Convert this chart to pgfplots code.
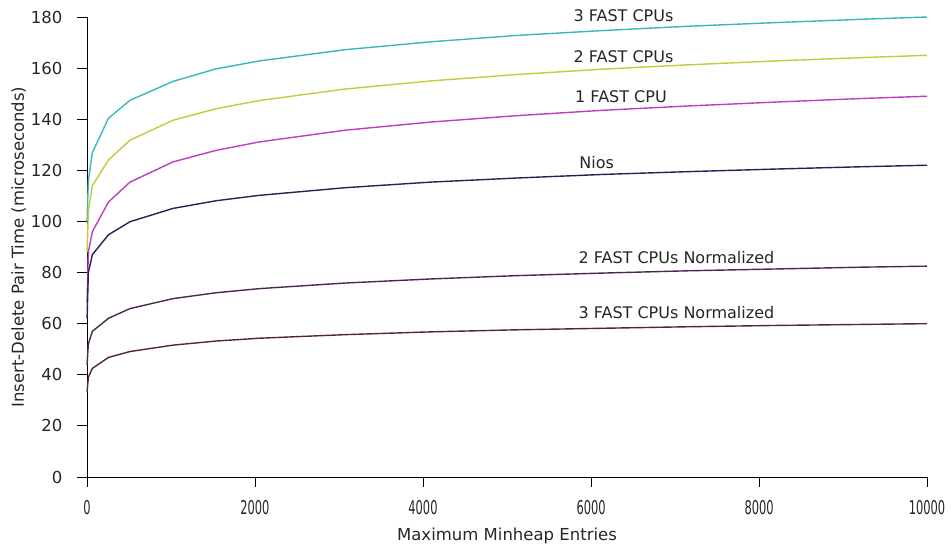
\documentclass[border=0pt]{standalone}
\usepackage{fontspec}
\setmainfont{DejaVu Sans}
\usepackage{graphicx}
\usepackage{pgfplots}
\pgfplotsset{compat=1.18}
\definecolor{c3f}{RGB}{58,184,184}
\definecolor{c2f}{RGB}{200,200,60}
\definecolor{c1f}{RGB}{190,60,190}
\definecolor{cnios}{RGB}{35,35,85}
\definecolor{c2n}{RGB}{75,40,80}
\definecolor{c3n}{RGB}{85,40,40}
\begin{document}
\begin{tikzpicture}
\begin{axis}[
  scale only axis, width=840pt, height=460pt,
  at={(0,0)}, anchor=south west,
  xmin=0, xmax=10000, ymin=0, ymax=180,
  axis x line*=bottom, axis y line*=left,
  axis line style={line width=0.9pt, black},
  tick style={line width=0.9pt, black},
  tick align=outside, major tick length=10pt,
  xtick={0,2000,...,10000}, ytick={0,20,...,180},
  scaled x ticks=false,
  /pgf/number format/1000 sep={},
  /pgf/number format/assume math mode=true,
  xticklabel={\scalebox{0.6}[1]{\fontsize{19}{21}\selectfont\pgfmathprintnumber{\tick}}},
  ticklabel style={font=\fontsize{16.5}{19}\selectfont, text=black!85},
  x tick label style={yshift=-10pt},
  y tick label style={xshift=-11pt},
  xlabel={Maximum Minheap Entries},
  ylabel={Insert-Delete Pair Time (microseconds)},
  label style={font=\fontsize{16.5}{19}\selectfont, text=black!85},
  xlabel style={yshift=-6pt},
  ylabel style={yshift=-2pt},
  clip=false,
  every axis plot/.append style={line width=1.4pt},
]
\addplot[c3f] coordinates {(1,100) (16,116) (64,127) (256,140.4) (512,147.4) (1024,154.8) (1536,159.7) (2048,162.8) (3072,167.2) (4096,170.3) (5120,172.8) (6144,174.7) (7168,176.4) (8192,177.8) (9216,179.1) (10000,180)};
\addplot[c2f] coordinates {(1,88) (16,104) (64,114) (256,124.1) (512,131.8) (1024,139.6) (1536,144.1) (2048,147.3) (3072,151.8) (4096,155.0) (5120,157.5) (6144,159.6) (7168,161.3) (8192,162.8) (9216,164.1) (10000,165)};
\addplot[c1f] coordinates {(1,68) (16,88) (64,96) (256,107.6) (512,115.4) (1024,123.3) (1536,127.8) (2048,131.1) (3072,135.7) (4096,138.9) (5120,141.4) (6144,143.5) (7168,145.2) (8192,146.7) (9216,148.1) (10000,149)};
\addplot[cnios] coordinates {(1,62) (16,80) (64,87) (256,94.8) (512,99.9) (1024,105.1) (1536,108.1) (2048,110.2) (3072,113.2) (4096,115.4) (5120,117.0) (6144,118.4) (7168,119.5) (8192,120.5) (9216,121.4) (10000,122)};
\addplot[c2n] coordinates {(1,44) (16,52) (64,57) (256,62.1) (512,65.9) (1024,69.8) (1536,72.1) (2048,73.7) (3072,75.9) (4096,77.5) (5120,78.8) (6144,79.8) (7168,80.7) (8192,81.4) (9216,82.1) (10000,82.5)};
\addplot[c3n] coordinates {(1,33.3) (16,39) (64,42.5) (256,46.8) (512,49.1) (1024,51.6) (1536,53.2) (2048,54.3) (3072,55.7) (4096,56.8) (5120,57.6) (6144,58.2) (7168,58.8) (8192,59.3) (9216,59.7) (10000,60)};
\begin{scope}[every node/.style={anchor=west, font=\fontsize{16}{18}\selectfont, text=black!85, inner sep=0pt}]
\node at (axis cs:5790,180.6) {3 FAST CPUs};
\node at (axis cs:5790,164.6) {2 FAST CPUs};
\node at (axis cs:5810,148.8) {1 FAST CPU};
\node at (axis cs:5860,123.0) {Nios};
\node at (axis cs:5850,85.8) {2 FAST CPUs Normalized};
\node at (axis cs:5850,64.3) {3 FAST CPUs Normalized};
\end{scope}
\end{axis}
\pgfresetboundingbox
\path[use as bounding box] (-87pt,-72pt) rectangle (865pt,477pt);
\end{tikzpicture}
\end{document}
